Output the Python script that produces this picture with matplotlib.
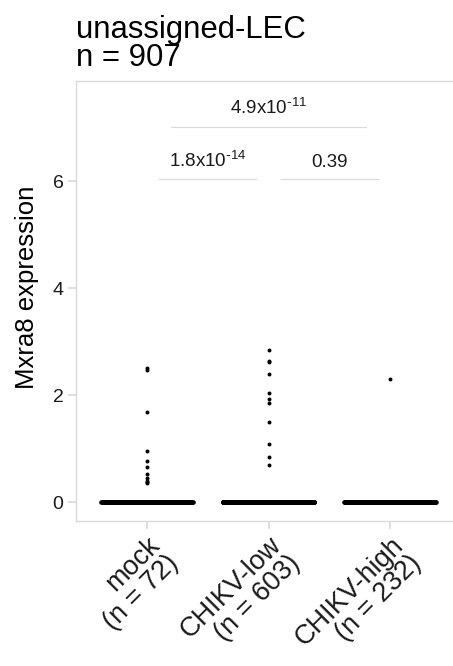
import numpy as np
import matplotlib
matplotlib.use('Agg')
import matplotlib.pyplot as plt

plt.rcParams['font.family'] = ['Liberation Sans', 'DejaVu Sans']

# data
groups = ['mock', 'CHIKV-low', 'CHIKV-high']
group_n = [72, 603, 232]
nonzero = {
    'mock': [2.50, 2.47, 1.69, 0.96, 0.77, 0.65, 0.52, 0.44, 0.40, 0.37, 0.35],
    'CHIKV-low': [2.85, 2.63, 2.62, 2.39, 2.03, 1.93, 1.85, 1.50, 1.08, 0.85, 0.70],
    'CHIKV-high': [2.30],
}
# pairwise comparisons: (group a, group b, bar height, label)
comparisons = [
    (0, 1, 6.03, r'$\mathregular{1.8x10^{\text{-}14}}$'),
    (1, 2, 6.03, '0.39'),
    (0, 2, 7.01, r'$\mathregular{4.9x10^{\text{-}11}}$'),
]
title = 'unassigned-LEC\nn = 907'
ylabel = 'Mxra8 expression'
yticks = [0, 2, 4, 6]

grey = '#d9d9d9'
almost_black = '#1a1a1a'

fig = plt.figure(figsize=(4.53, 6.66), dpi=100)
ax = fig.add_axes([76 / 453, 145 / 666, 385 / 453, 440.3 / 666])

for i, (g, n) in enumerate(zip(groups, group_n)):
    vals = nonzero[g]
    nzero = n - len(vals)
    # zeros spread across the group width (quasirandom-like)
    xs = i + np.linspace(-0.375, 0.375, max(nzero, 150))
    ax.scatter(xs, np.zeros(len(xs)), s=11, color='black', linewidths=0, zorder=3)
    ax.scatter(np.full(len(vals), i), vals, s=8, color='black', linewidths=0, zorder=3)

for a, b, h, lab in comparisons:
    shrink = 0.1 if b - a == 1 else 0.2
    ax.plot([a + shrink, b - shrink], [h, h], color=grey, lw=0.8, zorder=2)
    ax.text((a + b) / 2, h + 0.24, lab, ha='center', va='baseline', fontsize=13.5,
            color=almost_black)

ax.set_xlim(-0.584, 2.584)
ax.set_ylim(-0.355, 7.875)
ax.set_yticks(yticks)
ax.set_yticklabels([str(t) for t in yticks], fontsize=14, color=almost_black)
ax.set_xticks(range(len(groups)))
ax.set_xticklabels(['{}\n(n = {})'.format(g, n) for g, n in zip(groups, group_n)],
                   rotation=45, ha='right', va='top', rotation_mode='anchor',
                   fontsize=19.5, color=almost_black, multialignment='right',
                   linespacing=1.0)
ax.tick_params(axis='both', color=grey, length=6, width=1.2, pad=3)
ax.tick_params(axis='x', pad=2)
for sp in ax.spines.values():
    sp.set_color(grey)
    sp.set_linewidth(1.0)
ax.set_ylabel(ylabel, fontsize=18.5, color='black', labelpad=8)
ax.yaxis.set_label_coords(-0.095, 0.53)
fig.text(76 / 453, (666 - 73) / 666, title, ha='left', va='bottom',
         fontsize=22.4, linespacing=0.9, color='black')

fig.savefig('out.png', dpi=100)
